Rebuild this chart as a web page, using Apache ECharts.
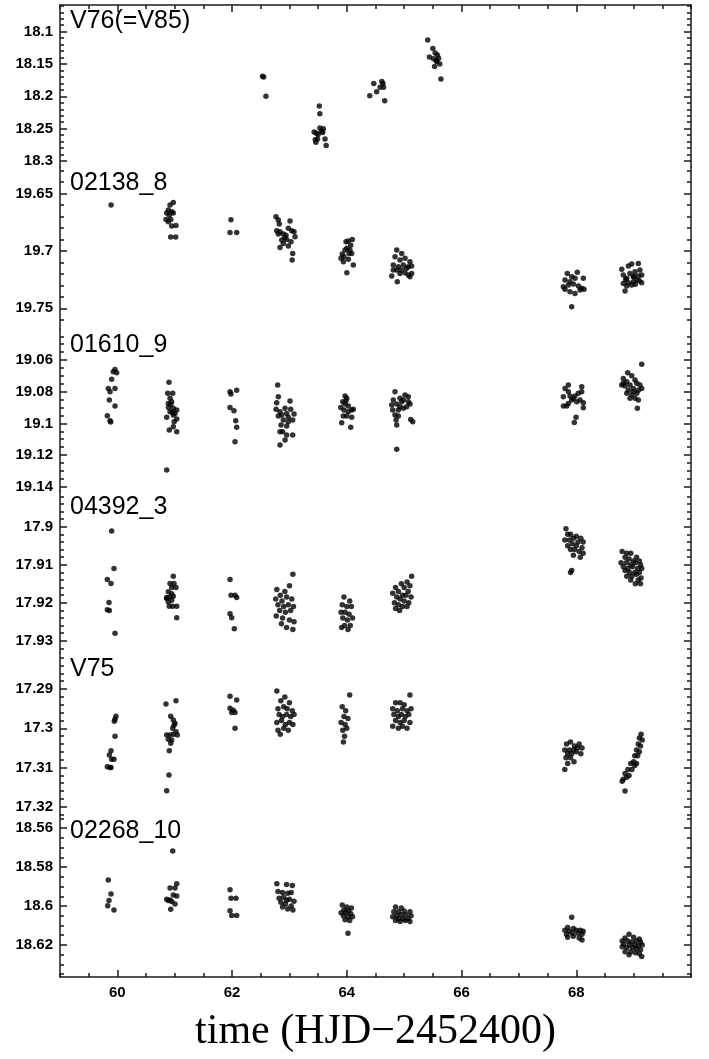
<!DOCTYPE html>
<html>
<head>
<meta charset="utf-8">
<script src="https://cdn.jsdelivr.net/npm/echarts@6/dist/echarts.min.js"></script>
<style>
html, body { margin: 0; padding: 0; background: #fff; }
#chart { width: 709px; height: 1059px; }
</style>
</head>
<body>
<div id="chart"></div>
<script>
// panel names, top to bottom
const names = ['V76(=V85)', '02138_8', '01610_9', '04392_3', 'V75', '02268_10'];

// x axis (days)
const xRange = [59, 70];
const xTicks = [60, 62, 64, 66, 68];

// y ranges (magnitude, inverted) and tick labels per panel
const range1 = [18.0587, 18.3093];
const range2 = [19.627, 19.768];
const range3 = [19.0404, 19.1427];
const range4 = [17.8906, 17.9332];
const range5 = [17.2808, 17.3221];
const range6 = [18.5532, 18.6365];

const ticks1 = [18.1, 18.15, 18.2, 18.25, 18.3];
const ticks2 = [19.65, 19.7, 19.75];
const ticks3 = [19.06, 19.08, 19.1, 19.12, 19.14];
const ticks4 = [17.9, 17.91, 17.92, 17.93];
const ticks5 = [17.29, 17.3, 17.31, 17.32];
const ticks6 = [18.56, 18.58, 18.6, 18.62];

// light curves [time, mag]
const v76 = [
	[62.53, 18.169], [62.55, 18.170], [62.59, 18.200],
	[63.52, 18.215], [63.53, 18.227], [63.43, 18.255], [63.47, 18.257], [63.53, 18.249], [63.59, 18.250], [63.56, 18.254],
	[63.50, 18.259], [63.45, 18.267], [63.46, 18.271], [63.49, 18.266], [63.62, 18.266], [63.64, 18.276], [63.58, 18.256],
	[64.47, 18.180], [64.61, 18.177], [64.63, 18.180], [64.58, 18.186], [64.64, 18.186], [64.52, 18.193], [64.40, 18.199], [64.66, 18.207],
	[65.41, 18.113], [65.50, 18.126], [65.44, 18.139], [65.54, 18.133], [65.58, 18.136], [65.51, 18.142], [65.60, 18.141],
	[65.57, 18.146], [65.62, 18.150], [65.53, 18.154], [65.64, 18.173], [65.56, 18.145]
];

const s02138 = [
	[59.89, 19.660],
	[60.975, 19.658], [60.918, 19.660], [60.888, 19.6645], [60.947, 19.666], [60.86, 19.667], [60.975, 19.667], [60.848, 19.6726],
	[60.888, 19.6747], [60.93, 19.6726], [61.022, 19.678], [60.947, 19.6784], [60.93, 19.688], [61.017, 19.688], [60.906, 19.669],
	[61.98, 19.673], [61.964, 19.684], [62.08, 19.684],
	[62.766, 19.6703], [62.806, 19.6732], [62.823, 19.6767], [63.01, 19.6741], [62.778, 19.6825], [62.835, 19.6834], [62.98, 19.6804],
	[63.04, 19.6825], [63.08, 19.6834], [62.893, 19.6854], [62.865, 19.6906], [62.952, 19.690], [63.027, 19.6921], [62.92, 19.6883],
	[63.097, 19.6877], [62.835, 19.697], [62.98, 19.6958], [63.057, 19.7022], [63.047, 19.708], [62.893, 19.6935], [62.806, 19.6854], [62.94, 19.6863],
	[63.986, 19.6921], [64.026, 19.6915], [64.096, 19.690], [64.068, 19.695], [64.0, 19.6978], [63.969, 19.6993], [64.056, 19.6993],
	[63.92, 19.7028], [63.899, 19.7065], [63.951, 19.7051], [64.038, 19.7022], [64.085, 19.7022], [64.026, 19.7074], [64.113, 19.7123],
	[64.0, 19.719], [63.94, 19.7095],
	[64.87, 19.6993], [64.957, 19.7022], [64.84, 19.7051], [64.927, 19.708], [65.015, 19.7065], [65.10, 19.7095], [64.81, 19.7123],
	[64.898, 19.7138], [64.985, 19.7123], [65.072, 19.7138], [65.13, 19.7132], [64.87, 19.7167], [64.957, 19.7167], [65.044, 19.7152],
	[64.783, 19.7219], [65.10, 19.7225], [65.13, 19.7196], [64.88, 19.7269], [64.81, 19.7167], [64.927, 19.7196], [65.015, 19.719], [65.072, 19.721],
	[67.844, 19.7196], [68.018, 19.7187], [67.92, 19.7225], [67.804, 19.7254], [67.89, 19.7269], [67.978, 19.7239], [68.123, 19.7239],
	[67.775, 19.7312], [67.862, 19.7297], [67.949, 19.7289], [68.036, 19.7306], [68.095, 19.7326], [67.804, 19.7335], [67.89, 19.7356],
	[67.978, 19.737], [68.066, 19.7341], [68.135, 19.7335], [67.92, 19.7486],
	[68.793, 19.7161], [68.908, 19.7132], [68.967, 19.7115], [69.082, 19.7109], [68.82, 19.7211], [68.937, 19.7196], [69.024, 19.7182],
	[69.11, 19.7167], [68.88, 19.7239], [68.995, 19.7225], [69.082, 19.7219], [69.14, 19.7211], [68.82, 19.7283], [68.908, 19.7277],
	[68.995, 19.7269], [69.054, 19.7254], [69.14, 19.7277], [68.88, 19.7306], [68.967, 19.7297], [68.85, 19.735],
	[69.0, 19.722], [69.1, 19.726], [68.86, 19.725], [69.03, 19.729]
];

const s01610 = [
	[59.959, 19.0659], [59.929, 19.0674], [59.90, 19.0722], [59.988, 19.068], [59.842, 19.0779], [59.959, 19.0779], [59.872, 19.080],
	[59.86, 19.0853], [59.959, 19.0891], [59.825, 19.0952], [59.872, 19.0983], [59.884, 19.0992],
	[60.90, 19.0741], [60.878, 19.081], [60.965, 19.081], [60.918, 19.0842], [60.888, 19.0874], [60.947, 19.0863], [60.975, 19.0905],
	[61.035, 19.0916], [60.918, 19.0927], [61.005, 19.0937], [60.86, 19.0962], [60.975, 19.0947], [61.035, 19.0973], [60.905, 19.1042],
	[60.975, 19.1021], [61.035, 19.1053], [60.86, 19.1295], [60.93, 19.088], [60.96, 19.093], [60.89, 19.090], [60.99, 19.099],
	[61.964, 19.080], [62.08, 19.079], [61.964, 19.0899], [62.033, 19.092], [62.063, 19.0983], [62.08, 19.1025], [62.051, 19.1116], [61.98, 19.0815],
	[62.795, 19.0758], [62.806, 19.0832], [62.778, 19.087], [62.766, 19.0911], [62.835, 19.0927], [62.923, 19.0905], [63.01, 19.0859],
	[63.022, 19.0911], [62.952, 19.0937], [62.865, 19.0947], [62.806, 19.0954], [62.98, 19.0962], [62.893, 19.0979], [63.057, 19.0979],
	[62.853, 19.1011], [62.952, 19.1017], [62.835, 19.1053], [62.882, 19.1053], [63.057, 19.1074], [62.952, 19.1074], [62.923, 19.1105],
	[62.835, 19.1137], [63.08, 19.0941], [62.98, 19.099],
	[63.969, 19.0827], [63.998, 19.0842], [63.929, 19.0863], [63.969, 19.0878], [63.894, 19.0899], [63.951, 19.0916], [64.085, 19.0916],
	[64.026, 19.0927], [64.113, 19.0911], [63.939, 19.0954], [63.998, 19.0954], [64.085, 19.0962], [63.911, 19.0996], [64.068, 19.1025],
	[63.986, 19.0857], [64.026, 19.0891],
	[64.84, 19.080], [64.81, 19.0853], [64.927, 19.0842], [65.015, 19.0821], [65.072, 19.0832], [64.985, 19.0853], [64.783, 19.0884],
	[64.87, 19.0878], [64.957, 19.0863], [65.102, 19.0878], [65.044, 19.0895], [64.80, 19.0916], [64.898, 19.0916], [64.985, 19.0905],
	[64.84, 19.0947], [64.898, 19.0954], [64.858, 19.0979], [64.87, 19.1011], [65.114, 19.0975], [65.149, 19.099], [64.87, 19.1164],
	[65.072, 19.0863], [64.927, 19.0895],
	[67.804, 19.0779], [67.862, 19.0758], [68.095, 19.0769], [67.775, 19.0832], [67.862, 19.080], [67.949, 19.0842], [68.036, 19.081],
	[68.095, 19.080], [67.775, 19.0891], [67.862, 19.0874], [67.92, 19.0853], [68.008, 19.0863], [68.066, 19.0853], [68.123, 19.0869],
	[67.834, 19.0891], [68.123, 19.0901], [67.996, 19.0962], [67.966, 19.0994], [67.89, 19.0827], [67.978, 19.0827],
	[69.141, 19.0627], [68.897, 19.068], [68.967, 19.0699], [68.82, 19.0716], [68.88, 19.0737], [69.024, 19.0726], [69.054, 19.0747],
	[68.793, 19.0758], [68.85, 19.0764], [68.937, 19.0758], [69.11, 19.0758], [68.908, 19.079], [68.995, 19.0779], [69.082, 19.079],
	[69.141, 19.0779], [68.88, 19.081], [68.967, 19.0821], [69.054, 19.081], [68.937, 19.0842], [69.024, 19.0842], [69.082, 19.0853],
	[69.065, 19.0905], [68.82, 19.0747], [68.995, 19.080]
];

const s04392 = [
	[59.90, 17.9011], [59.941, 17.911], [59.825, 17.9139], [59.889, 17.9149], [59.854, 17.9199], [59.825, 17.9218], [59.86, 17.922], [59.959, 17.928],
	[60.975, 17.913], [60.918, 17.9149], [60.987, 17.9149], [60.947, 17.916], [61.022, 17.916], [60.888, 17.9171], [60.947, 17.9176],
	[60.86, 17.9186], [60.918, 17.9185], [60.975, 17.9183], [60.888, 17.9198], [60.947, 17.9193], [60.905, 17.9209], [60.965, 17.9209],
	[61.035, 17.9209], [61.035, 17.9239], [60.86, 17.9189],
	[61.964, 17.9139], [61.981, 17.918], [62.051, 17.918], [62.08, 17.9186], [61.964, 17.9229], [61.993, 17.9239], [62.039, 17.9268],
	[63.06, 17.9125], [62.78, 17.9165], [62.84, 17.918], [62.92, 17.917], [63.0, 17.9155], [62.76, 17.919], [62.87, 17.9195], [62.95, 17.9185],
	[63.04, 17.919], [62.8, 17.9205], [62.9, 17.921], [62.98, 17.9205], [63.07, 17.921], [62.83, 17.922], [62.93, 17.9225], [63.02, 17.922],
	[62.77, 17.9235], [62.88, 17.924], [63.0, 17.9245], [63.08, 17.925], [62.95, 17.9265], [63.06, 17.927], [62.86, 17.9255],
	[63.95, 17.9185], [64.05, 17.9195], [63.92, 17.9205], [64.0, 17.921], [64.08, 17.921], [63.9, 17.9225], [63.97, 17.9225], [64.04, 17.923],
	[63.93, 17.924], [64.01, 17.9245], [64.1, 17.924], [63.96, 17.926], [64.06, 17.926], [63.91, 17.9265], [64.02, 17.927],
	[65.13, 17.913], [65.05, 17.9145], [64.95, 17.915], [65.1, 17.9155], [64.85, 17.916], [65.0, 17.916], [64.9, 17.917], [65.07, 17.917],
	[64.8, 17.9175], [64.97, 17.918], [65.03, 17.918], [64.87, 17.9185], [65.12, 17.9185], [64.93, 17.919], [65.0, 17.9195], [64.83, 17.92],
	[65.08, 17.92], [64.9, 17.9205], [64.97, 17.921], [64.85, 17.9215], [65.05, 17.921], [64.92, 17.922],
	[67.82, 17.9005], [67.9, 17.902], [67.85, 17.902], [68.0, 17.9025], [67.95, 17.903], [68.08, 17.903], [67.8, 17.9035], [67.88, 17.9035],
	[68.03, 17.904], [68.12, 17.904], [67.93, 17.9045], [67.85, 17.905], [68.0, 17.905], [68.1, 17.9055], [67.9, 17.906], [67.97, 17.906],
	[68.05, 17.9065], [68.12, 17.907], [67.95, 17.9075], [68.07, 17.908], [67.92, 17.9115], [67.9, 17.912],
	[68.8, 17.9065], [68.88, 17.907], [68.95, 17.907], [68.85, 17.908], [69.05, 17.908], [68.92, 17.9085], [69.0, 17.909], [68.78, 17.9095],
	[69.1, 17.909], [68.87, 17.9095], [68.95, 17.91], [69.03, 17.9095], [69.12, 17.91], [68.82, 17.9105], [68.9, 17.911], [68.98, 17.9105],
	[69.07, 17.911], [69.14, 17.911], [68.85, 17.9115], [68.93, 17.912], [69.02, 17.912], [69.1, 17.912], [68.88, 17.913], [68.97, 17.913],
	[69.05, 17.9125], [69.13, 17.9135], [68.95, 17.914], [69.08, 17.914], [69.03, 17.915], [69.12, 17.915]
];

const v75 = [
	[59.976, 17.2969], [59.959, 17.2977], [59.947, 17.2982], [59.959, 17.302], [59.889, 17.3057], [59.86, 17.3068], [59.90, 17.3079],
	[59.941, 17.3079], [59.825, 17.3098], [59.872, 17.31], [59.889, 17.31],
	[60.848, 17.2938], [61.022, 17.293], [60.93, 17.2969], [60.975, 17.2979], [60.987, 17.2992], [60.965, 17.300], [61.022, 17.3009],
	[60.86, 17.3017], [60.918, 17.3017], [60.975, 17.3015], [61.045, 17.3017], [60.888, 17.3028], [60.947, 17.303], [60.93, 17.3038],
	[60.905, 17.3057], [60.90, 17.3119], [60.86, 17.3159], [61.005, 17.2987],
	[61.964, 17.2918], [62.08, 17.2928], [61.964, 17.2949], [61.993, 17.296], [62.051, 17.296], [62.021, 17.2954], [62.051, 17.300],
	[62.78, 17.2905], [62.92, 17.292], [62.85, 17.293], [63.0, 17.2935], [62.8, 17.295], [62.9, 17.2945], [62.96, 17.295], [63.05, 17.2955],
	[62.82, 17.2965], [62.88, 17.297], [62.95, 17.2965], [63.02, 17.297], [63.08, 17.2965], [62.78, 17.2985], [62.86, 17.298], [62.93, 17.299],
	[63.0, 17.2985], [63.06, 17.299], [62.8, 17.3005], [62.9, 17.3], [62.98, 17.3005], [62.84, 17.3015],
	[64.05, 17.2915], [63.92, 17.2945], [63.98, 17.2955], [63.95, 17.297], [64.02, 17.2975], [63.9, 17.2985], [63.97, 17.299], [64.0, 17.3],
	[63.93, 17.3005], [63.96, 17.302], [63.94, 17.3035],
	[65.1, 17.2915], [64.85, 17.2935], [64.93, 17.2935], [65.0, 17.294], [64.8, 17.295], [64.88, 17.2955], [64.97, 17.295], [65.05, 17.2955],
	[65.12, 17.295], [64.82, 17.2965], [64.9, 17.297], [64.95, 17.2965], [65.02, 17.297], [65.08, 17.2965], [64.85, 17.298], [64.93, 17.2985],
	[65.0, 17.298], [65.1, 17.2985], [64.8, 17.2995], [64.9, 17.3], [64.97, 17.2995], [65.05, 17.3],
	[67.9, 17.3035], [67.83, 17.304], [67.97, 17.3045], [68.05, 17.304], [67.8, 17.3055], [67.88, 17.3055], [67.95, 17.3055], [68.02, 17.305],
	[68.1, 17.305], [67.85, 17.3065], [67.92, 17.3065], [68.0, 17.306], [68.08, 17.3065], [67.82, 17.3075], [67.9, 17.3075], [67.96, 17.3085],
	[67.85, 17.309], [67.8, 17.3105],
	[69.13, 17.3015], [69.1, 17.3025], [69.15, 17.303], [69.08, 17.304], [69.12, 17.3045], [69.05, 17.3055], [69.1, 17.306], [69.02, 17.307],
	[69.07, 17.307], [69.0, 17.3085], [69.05, 17.309], [68.95, 17.309], [69.02, 17.3095], [68.9, 17.3105], [68.97, 17.3105], [68.85, 17.3115],
	[68.92, 17.312], [68.82, 17.313], [68.88, 17.3125], [68.8, 17.3135], [68.85, 17.316]
];

const s02268 = [
	[59.842, 18.5866], [59.889, 18.5938], [59.854, 18.5972], [59.832, 18.5998], [59.941, 18.602],
	[60.965, 18.5717], [61.035, 18.5886], [61.005, 18.5908], [60.918, 18.5908], [60.975, 18.5943], [60.86, 18.5965], [60.918, 18.5969],
	[61.035, 18.5948], [60.947, 18.5977], [61.005, 18.5989], [60.93, 18.6016], [60.888, 18.5972],
	[61.964, 18.5917], [61.981, 18.596], [62.068, 18.596], [61.964, 18.6024], [61.993, 18.6049], [62.08, 18.6049],
	[62.78, 18.5885], [62.95, 18.589], [63.05, 18.5895], [62.8, 18.5925], [62.88, 18.593], [62.97, 18.5935], [63.03, 18.593], [62.82, 18.596],
	[62.9, 18.5955], [62.95, 18.597], [63.0, 18.5965], [63.08, 18.5975], [62.85, 18.598], [62.93, 18.599], [63.03, 18.6], [62.88, 18.6005],
	[62.97, 18.6015], [63.06, 18.602],
	[63.92, 18.5995], [64.0, 18.6005], [64.08, 18.601], [63.95, 18.602], [64.03, 18.6025], [63.9, 18.6035], [63.98, 18.6035], [64.07, 18.604],
	[63.94, 18.605], [64.02, 18.6055], [64.1, 18.6055], [63.97, 18.607], [64.05, 18.6075], [64.02, 18.614],
	[64.85, 18.6005], [64.95, 18.601], [64.82, 18.603], [64.9, 18.603], [65.0, 18.6025], [65.1, 18.603], [64.87, 18.605], [64.95, 18.6045],
	[65.03, 18.6045], [65.12, 18.605], [64.8, 18.6055], [64.9, 18.6065], [64.98, 18.6065], [65.07, 18.6065], [64.85, 18.6075], [64.93, 18.608],
	[65.02, 18.6075], [65.1, 18.608],
	[67.92, 18.6058], [67.85, 18.611], [67.95, 18.6115], [67.8, 18.6125], [67.88, 18.613], [68.0, 18.6125], [68.07, 18.6125], [68.12, 18.613],
	[67.83, 18.6145], [67.93, 18.614], [68.03, 18.614], [68.1, 18.6145], [67.85, 18.616], [67.95, 18.6155], [68.05, 18.6165], [68.1, 18.6175],
	[68.92, 18.6145], [68.85, 18.6165], [69.0, 18.616], [69.1, 18.617], [68.8, 18.618], [68.9, 18.618], [68.97, 18.6185], [69.05, 18.618],
	[69.12, 18.6185], [68.83, 18.6195], [68.93, 18.62], [69.02, 18.62], [69.08, 18.6205], [69.15, 18.62], [68.8, 18.621], [68.88, 18.6215],
	[68.98, 18.6215], [69.05, 18.622], [69.12, 18.6225], [68.85, 18.6235], [68.95, 18.6235], [69.03, 18.624], [69.1, 18.6245], [68.92, 18.625],
	[69.14, 18.626]
];

const panels = [
	{ name: names[0], data: v76, range: range1, ticks: ticks1, minor: 0.01 },
	{ name: names[1], data: s02138, range: range2, ticks: ticks2, minor: 0.01 },
	{ name: names[2], data: s01610, range: range3, ticks: ticks3, minor: 0.005 },
	{ name: names[3], data: s04392, range: range4, ticks: ticks4, minor: 0.002 },
	{ name: names[4], data: v75, range: range5, ticks: ticks5, minor: 0.002 },
	{ name: names[5], data: s02268, range: range6, ticks: ticks6, minor: 0.005 }
];

const LEFT = 60, TOP = 5, WIDTH = 631, HEIGHT = 162;
const INK = '#1a1a1a';
const lineStyle = { color: INK, width: 1.5 };

//所有 step 的倍数落在 range 内
const minorValues = function (range, step) {
	const out = [];
	for (let k = Math.ceil(range[0] / step - 1e-6); k * step <= range[1] + 1e-9; k++) {
		out.push(+(k * step).toFixed(4));
	}
	return out;
};

const fmt = function (v) {
	return String(Math.round(v * 1000) / 1000);
};

const labelStyle = {
	fontFamily: 'Liberation Sans',
	fontWeight: 'bold',
	fontSize: 15,
	color: '#000'
};

const grid = [], title = [], xAxis = [], yAxis = [], series = [];

panels.forEach(function (p, i) {
	grid.push({ left: LEFT, top: TOP + HEIGHT * i, width: WIDTH, height: HEIGHT });

	title.push({
		text: p.name,
		left: 70,
		top: TOP + HEIGHT * i + 4,
		padding: 0,
		textStyle: { fontFamily: 'Liberation Sans', fontWeight: 'normal', fontSize: 25, lineHeight: 25, color: '#000' }
	});

	const base = {
		gridIndex: i,
		type: 'value',
		inverse: true,
		min: p.range[0],
		max: p.range[1],
		splitLine: { show: false }
	};
	const minor = minorValues(p.range, p.minor);

	['left', 'right'].forEach(function (side) {
		yAxis.push(Object.assign({}, base, {
			position: side,
			axisLine: { show: true, onZero: false, lineStyle: lineStyle },
			axisTick: { show: true, inside: true, length: 7, customValues: p.ticks, lineStyle: lineStyle },
			axisLabel: side === 'left'
				? Object.assign({ show: true, customValues: p.ticks, margin: 7, formatter: fmt }, labelStyle)
				: { show: false }
		}));
		yAxis.push(Object.assign({}, base, {
			position: side,
			axisLine: { show: false },
			axisTick: { show: true, inside: true, length: 4, customValues: minor, lineStyle: lineStyle },
			axisLabel: { show: false }
		}));
	});

	const xBase = { gridIndex: i, type: 'value', min: xRange[0], max: xRange[1], splitLine: { show: false } };
	if (i === 0 || i === panels.length - 1) {
		xAxis.push(Object.assign({}, xBase, {
			position: i === 0 ? 'top' : 'bottom',
			axisLine: { show: true, onZero: false, lineStyle: lineStyle },
			axisTick: { show: true, inside: true, length: 7, customValues: xTicks, lineStyle: lineStyle },
			axisLabel: i === 0
				? { show: false }
				: Object.assign({ show: true, customValues: xTicks, margin: 8, formatter: fmt }, labelStyle),
			name: i === 0 ? '' : 'time (HJD\u22122452400)',
			nameLocation: 'middle',
			nameGap: 34,
			nameTextStyle: { fontFamily: 'Liberation Serif', fontSize: 42, color: '#000' }
		}));
	} else {
		xAxis.push(Object.assign({}, xBase, { show: false }));
	}

	series.push({
		type: 'scatter',
		xAxisIndex: i,
		yAxisIndex: i * 4,
		data: p.data,
		symbol: 'circle',
		symbolSize: 5.5,
		itemStyle: { color: '#000' },
		silent: true
	});
});

//上下边框的小刻度
const xMinor = minorValues(xRange, 0.5);
[0, panels.length - 1].forEach(function (g) {
	xAxis.push({
		gridIndex: g,
		type: 'value',
		min: xRange[0],
		max: xRange[1],
		position: g === 0 ? 'top' : 'bottom',
		splitLine: { show: false },
		axisLine: { show: false },
		axisTick: { show: true, inside: true, length: 4, customValues: xMinor, lineStyle: lineStyle },
		axisLabel: { show: false }
	});
});

const chart = echarts.init(document.getElementById('chart'), null, { renderer: 'canvas' });
chart.setOption({
	animation: false,
	backgroundColor: '#fff',
	title: title,
	grid: grid,
	xAxis: xAxis,
	yAxis: yAxis,
	series: series
});
</script>
</body>
</html>
